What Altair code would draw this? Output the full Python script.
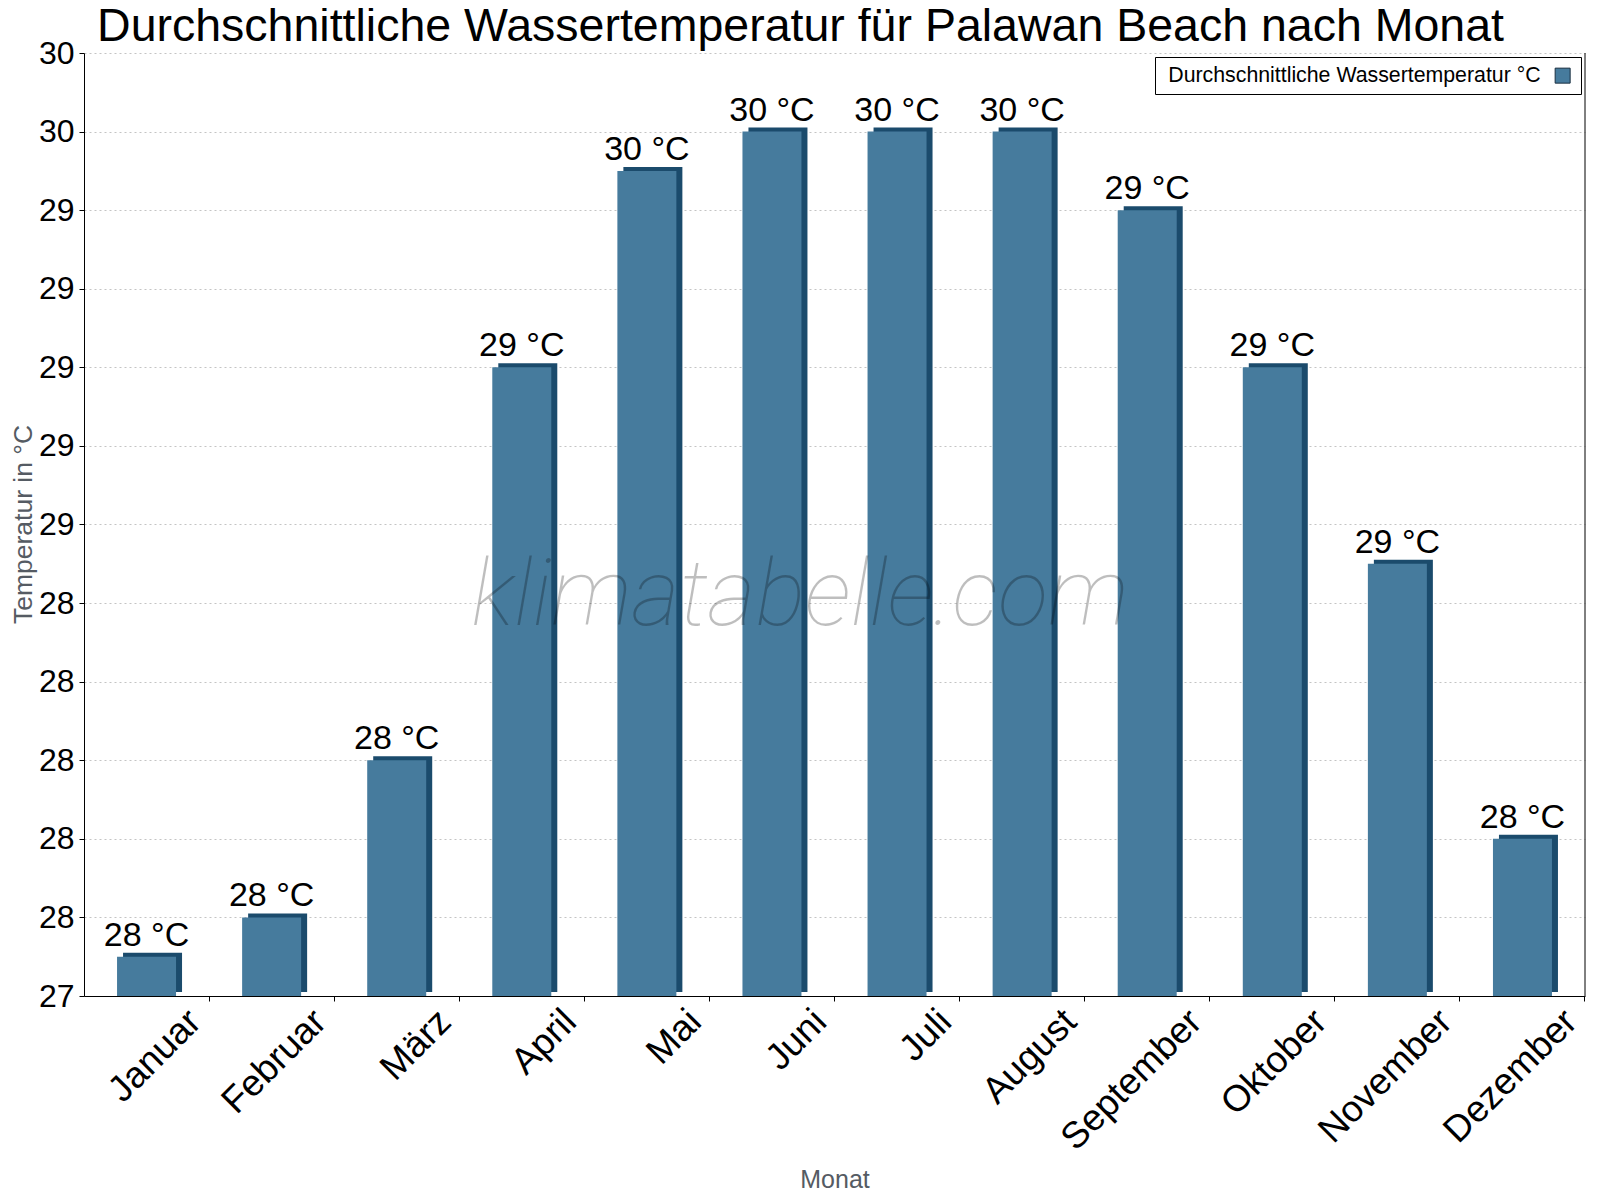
import altair as alt
import pandas as pd

months = ["Januar", "Februar", "März", "April", "Mai", "Juni", "Juli",
          "August", "September", "Oktober", "November", "Dezember"]
temps = [27.5, 27.6, 28.0, 29.0, 29.5, 29.6, 29.6, 29.6, 29.4, 29.0, 28.5, 27.8]
y_ticks = [27.4, 27.6, 27.8, 28.0, 28.2, 28.4, 28.6, 28.8, 29.0, 29.2, 29.4, 29.6, 29.8]
series_name = "Durchschnittliche Wassertemperatur °C"
title_text = "Durchschnittliche Wassertemperatur für Palawan Beach nach Monat"
watermark = ["klimatabelle.com"]

FRONT = "#467b9d"
DARK = "#1b4b6c"
FONT = "Liberation Sans"

df = pd.DataFrame({"Monat": months, "temp": temps, "series": [series_name] * len(months)})
ydom = [y_ticks[0], y_ticks[-1]]

x_enc = alt.X(
    "Monat:N",
    sort=months,
    scale=alt.Scale(paddingInner=0, paddingOuter=0),
    axis=alt.Axis(
        title="Monat",
        bandPosition=1,
        labelAngle=-45,
        labelAlign="right",
        labelBaseline="top",
        labelFontSize=37,
        labelColor="black",
        labelPadding=2,
        labelOffset=36,
        labelLimit=0,
        labelOverlap=False,
        tickSize=5,
        tickColor="black",
        domainColor="black",
        grid=False,
        titleFontSize=25,
        titleFontWeight="normal",
        titleColor="#555b63",
        titleY=191,
        titleBaseline="alphabetic",
    ),
)

y_enc = alt.Y(
    "temp:Q",
    scale=alt.Scale(domain=ydom, zero=False, nice=False, clamp=True),
    axis=alt.Axis(
        values=y_ticks,
        tickCount=40,
        tickMinStep=0.01,
        format="d",
        title="Temperatur in °C",
        titleFontSize=26.5,
        titleFontWeight="normal",
        titleColor="#555b63",
        titleAngle=-90,
        titleX=-61,
        titleY=471,
        titleAlign="center",
        titleBaseline="middle",
        labelFontSize=32,
        labelColor="black",
        labelPadding=5,
        labelOverlap=False,
        tickSize=5,
        tickColor="black",
        domainColor="black",
        grid=True,
        gridColor="#c4c4c4",
        gridDash=[2, 3],
        gridWidth=1,
    ),
)

dark = alt.Chart(df).mark_bar(size=59, xOffset=6, yOffset=-4, color=DARK).encode(
    x=x_enc,
    y=y_enc,
)

front = alt.Chart(df).mark_bar(size=59).encode(
    x=x_enc,
    y=y_enc,
    color=alt.Color(
        "series:N",
        scale=alt.Scale(range=[FRONT]),
        legend=alt.Legend(
            title=None,
            orient="top-right",
            offset=4,
            symbolType="square",
            symbolSize=225,
            symbolStrokeColor="#1a2f40",
            symbolStrokeWidth=1,
            labelFontSize=21.3,
            labelColor="black",
            labelLimit=0,
            labelOffset={"expr": "-405"},
            symbolOffset=389,
            padding=8,
            strokeColor="black",
            fillColor="white",
            cornerRadius=0,
        ),
    ),
)

labels = alt.Chart(df).transform_calculate(
    lab="format(datum.temp, 'd') + ' °C'"
).mark_text(fontSize=34, dy=-11, baseline="alphabetic", align="center", color="black").encode(
    x=x_enc,
    y=y_enc,
    text="lab:N",
)

border = alt.Chart(pd.DataFrame({"t": watermark})).mark_rule(color="black", strokeWidth=1).encode(
    x=alt.value("width"),
    y=alt.value(0),
    y2=alt.value("height"),
)

wm = alt.Chart(pd.DataFrame({"t": watermark})).mark_text(
    font="Roboto", fontStyle="italic", fontWeight=100, fontSize=93,
    color="black", opacity=0.25, align="center", baseline="alphabetic",
).encode(
    x=alt.value(716),
    y=alt.value(572),
    text="t:N",
)

chart = alt.layer(dark, front, labels, border, wm).properties(
    width=1501,
    height=943,
    autosize=alt.AutoSizeParams(type="none"),
    padding={"left": 76, "top": 45, "right": 7, "bottom": 196},
    title=alt.TitleParams(
        title_text, fontSize=46.5, fontWeight="normal", color="black", font=FONT,
        anchor="middle", dx=-34, dy=50, baseline="alphabetic", offset=0,
    ),
).configure(font=FONT).configure_view(stroke=None)

chart.save("out.html", embed_options={"renderer": "svg", "actions": False})
